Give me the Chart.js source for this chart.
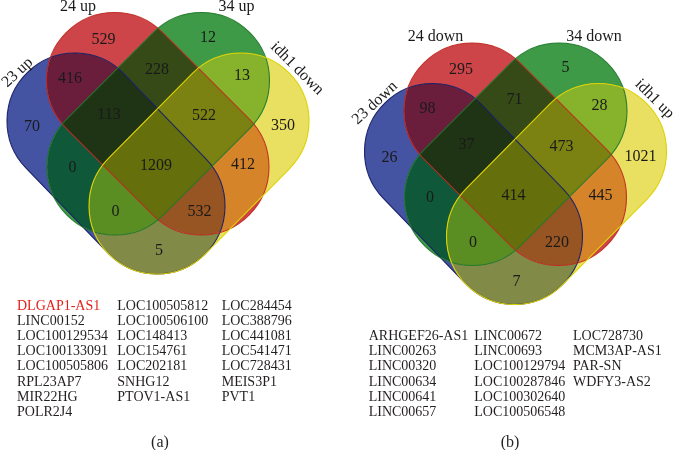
<!DOCTYPE html>
<html><head><meta charset="utf-8">
<script src="https://cdn.jsdelivr.net/npm/chart.js@4.4.1/dist/chart.umd.min.js"></script>
<style>
html,body{margin:0;padding:0;background:#fff;}
#wrap{position:relative;width:674px;height:450px;overflow:hidden;background:#fff;}
#c{position:absolute;left:0;top:0;}
.col{position:absolute;font-family:"Liberation Serif","Times New Roman",serif;font-size:14px;line-height:15.2px;color:#231f20;white-space:nowrap;}
.cap{position:absolute;font-family:"Liberation Serif","Times New Roman",serif;font-size:16px;line-height:16px;color:#231f20;transform:translateX(-50%);white-space:nowrap;}
</style></head>
<body>
<div id="wrap"><canvas id="c" width="674" height="450"></canvas></div>
<script>
// ---------------- DATA ----------------
const setNamesA = ['23 up', '24 up', '34 up', 'idh1 down'];
const setNamesB = ['23 down', '24 down', '34 down', 'idh1 up'];
// region keys: A=23, B=24, C=34, D=idh1
const regionKeys = ['A', 'B', 'C', 'D', 'AB', 'BC', 'CD', 'AC', 'BD', 'AD', 'ABC', 'BCD', 'ACD', 'ABD', 'ABCD'];
const countsA = [70, 529, 12, 350, 416, 228, 13, 0, 412, 5, 113, 522, 0, 532, 1209];
const countsB = [26, 295, 5, 1021, 98, 71, 28, 0, 445, 7, 37, 473, 0, 220, 414];
const genesA = ['DLGAP1-AS1', 'LINC00152', 'LOC100129534', 'LOC100133091', 'LOC100505806', 'RPL23AP7', 'MIR22HG', 'POLR2J4',
  'LOC100505812', 'LOC100506100', 'LOC148413', 'LOC154761', 'LOC202181', 'SNHG12', 'PTOV1-AS1',
  'LOC284454', 'LOC388796', 'LOC441081', 'LOC541471', 'LOC728431', 'MEIS3P1', 'PVT1'];
const genesB = ['ARHGEF26-AS1', 'LINC00263', 'LINC00320', 'LINC00634', 'LINC00641', 'LINC00657',
  'LINC00672', 'LINC00693', 'LOC100129794', 'LOC100287846', 'LOC100302640', 'LOC100506548',
  'LOC728730', 'MCM3AP-AS1', 'PAR-SN', 'WDFY3-AS2'];
const highlightGenes = ['DLGAP1-AS1'];
const captions = ['(a)', '(b)'];

// ---------------- LAYOUT / STYLE ----------------
const SET_LETTERS = ['A', 'B', 'C', 'D'];
const SHAPES = [ // panel-local stadiums
  {p1: [75, 121], p2: [157, 206], r: 68, stroke: 'rgba(20,28,100,0.95)'},
  {p1: [114.5, 80.5], p2: [201, 167], r: 68, stroke: 'rgba(190,35,25,0.9)'},
  {p1: [201.5, 80.5], p2: [115, 167], r: 68, stroke: 'rgba(25,115,35,0.9)'},
  {p1: [241, 121], p2: [157, 206], r: 68, stroke: 'rgb(222,210,0)'}
];
const REGION_COLORS = {
  A: '#4553a3', B: '#cd4549', C: '#3f9a47', D: '#e9e062',
  AB: '#6b1d3c', BC: '#354a16', CD: '#86b32b', AC: '#10583a', BD: '#d6842a', AD: '#818b47',
  ABC: '#1f3315', BCD: '#7b8211', ACD: '#5a8e22', ABD: '#965522', ABCD: '#656f0b'
};
const LABEL_POS = {
  A: [32, 127], B: [103.5, 39.5], C: [208, 37.5], D: [283, 126],
  AB: [70, 78.5], BC: [157, 69.5], CD: [242, 75.5], AC: [72.5, 167.5], BD: [243, 165],
  AD: [159, 251], ABC: [109, 114.5], BCD: [204, 116], ACD: [115.5, 212], ABD: [199.5, 212], ABCD: [156, 165.5]
};
const SET_LABEL_POS = [
  {x: 17.5, y: 72.5, rot: -43},
  {x: 78, y: 6.7, rot: 0},
  {x: 236.5, y: 6.7, rot: 0},
  {x: 297, y: 68.5, rot: 45}
];
const PANELS = [
  {dx: 0, dy: 0, names: setNamesA, counts: countsA},
  {dx: 357.5, dy: 30.5, names: setNamesB, counts: countsB}
];
const NUM_FONT = '16px "Liberation Serif", "Times New Roman", serif';
const TXT_COLOR = '#1a1a1a';

function stadiumPath(ctx, s, px, py) {
  const x1 = px(s.p1[0]), y1 = py(s.p1[1]), x2 = px(s.p2[0]), y2 = py(s.p2[1]);
  const rr = Math.abs(px(s.r) - px(0));
  const th = Math.atan2(y2 - y1, x2 - x1);
  ctx.moveTo(x2 + rr * Math.cos(th - Math.PI / 2), y2 + rr * Math.sin(th - Math.PI / 2));
  ctx.arc(x2, y2, rr, th - Math.PI / 2, th + Math.PI / 2);
  ctx.arc(x1, y1, rr, th + Math.PI / 2, th + 3 * Math.PI / 2);
  ctx.closePath();
}

const vennPlugin = {
  id: 'venn',
  beforeDatasetsDraw(chart) {
    const ctx = chart.ctx, xs = chart.scales.x, ys = chart.scales.y;
    PANELS.forEach(p => {
      const px = v => xs.getPixelForValue(v + p.dx);
      const py = v => ys.getPixelForValue(v + p.dy);
      regionKeys.forEach(k => {
        ctx.save();
        SHAPES.forEach((s, j) => {
          const inside = k.includes(SET_LETTERS[j]);
          ctx.beginPath();
          if (!inside) {
            ctx.moveTo(0, 0);
            ctx.lineTo(chart.width, 0);
            ctx.lineTo(chart.width, chart.height);
            ctx.lineTo(0, chart.height);
            ctx.closePath();
          }
          stadiumPath(ctx, s, px, py);
          ctx.clip(inside ? 'nonzero' : 'evenodd');
        });
        ctx.fillStyle = REGION_COLORS[k];
        ctx.fillRect(0, 0, chart.width, chart.height);
        ctx.restore();
      });
      SHAPES.forEach(s => {
        ctx.save();
        ctx.beginPath();
        stadiumPath(ctx, s, px, py);
        ctx.lineWidth = 1.1;
        ctx.strokeStyle = s.stroke;
        ctx.stroke();
        ctx.restore();
      });
    });
  },
  afterDatasetsDraw(chart) {
    const ctx = chart.ctx, xs = chart.scales.x, ys = chart.scales.y;
    ctx.save();
    ctx.font = NUM_FONT;
    ctx.fillStyle = TXT_COLOR;
    ctx.textAlign = 'center';
    ctx.textBaseline = 'middle';
    chart.data.datasets.forEach((ds, di) => {
      const meta = chart.getDatasetMeta(di);
      meta.data.forEach((el, i) => {
        ctx.fillText(String(ds.data[i].v), el.x, el.y);
      });
    });
    PANELS.forEach(p => {
      p.names.forEach((name, j) => {
        const L = SET_LABEL_POS[j];
        ctx.save();
        ctx.translate(xs.getPixelForValue(L.x + p.dx), ys.getPixelForValue(L.y + p.dy));
        ctx.rotate(L.rot * Math.PI / 180);
        ctx.fillText(name, 0, 0);
        ctx.restore();
      });
    });
    ctx.restore();
  }
};

const datasets = PANELS.map((p, pi) => ({
  label: 'panel ' + pi,
  data: regionKeys.map((k, i) => ({x: LABEL_POS[k][0] + p.dx, y: LABEL_POS[k][1] + p.dy, v: p.counts[i]})),
  pointRadius: 0,
  pointHoverRadius: 0,
  showLine: false
}));

new Chart(document.getElementById('c'), {
  type: 'scatter',
  data: {datasets},
  options: {
    responsive: false,
    animation: false,
    events: [],
    layout: {padding: 0},
    plugins: {legend: {display: false}, tooltip: {enabled: false}},
    scales: {
      x: {type: 'linear', min: 0, max: 674, display: false},
      y: {type: 'linear', min: 0, max: 450, reverse: true, display: false}
    }
  },
  plugins: [vennPlugin]
});

// ---------------- gene lists (HTML text) ----------------
const GENE_LAYOUT = [
  {genes: genesA, sizes: [8, 7, 7], xs: [17, 117.3, 221.7], top: 297.6},
  {genes: genesB, sizes: [6, 6, 4], xs: [368.7, 474.3, 573], top: 328}
];
const CAPTION_POS = [[160, 433.6], [510, 433.6]];
const wrap = document.getElementById('wrap');
GENE_LAYOUT.forEach((g, gi) => {
  let idx = 0;
  g.sizes.forEach((n, ci) => {
    const d = document.createElement('div');
    d.className = 'col';
    d.style.left = g.xs[ci] + 'px';
    d.style.top = g.top + 'px';
    g.genes.slice(idx, idx + n).forEach(name => {
      const line = document.createElement('div');
      line.textContent = name;
      if (highlightGenes.includes(name)) line.style.color = '#e3211c';
      d.appendChild(line);
    });
    idx += n;
    wrap.appendChild(d);
  });
  const c = document.createElement('div');
  c.className = 'cap';
  c.style.left = CAPTION_POS[gi][0] + 'px';
  c.style.top = CAPTION_POS[gi][1] + 'px';
  c.textContent = captions[gi];
  wrap.appendChild(c);
});
</script>
</body></html>
